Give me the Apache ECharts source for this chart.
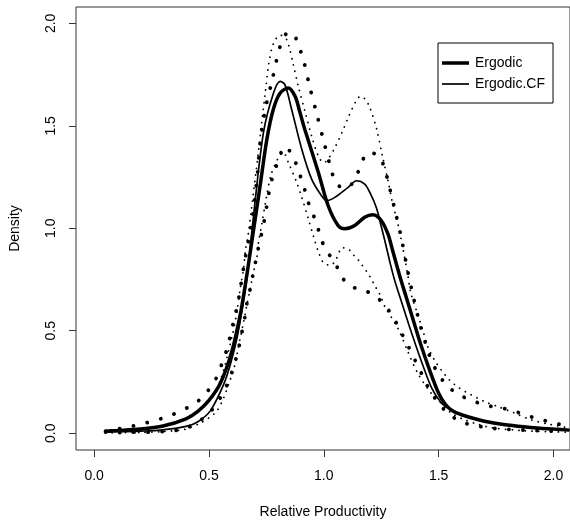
<!DOCTYPE html>
<html>
<head>
<meta charset="utf-8" />
<title>Ergodic density</title>
<style>
  html, body { margin: 0; padding: 0; background: #fff; }
  #chart { width: 570px; height: 524px; }
</style>
</head>
<body>
<div id="chart"></div>
<script src="https://cdn.jsdelivr.net/npm/echarts@6/dist/echarts.min.js"></script>
<script>
// tick labels
var xTicks = [0, 0.5, 1.0, 1.5, 2.0];
var yTicks = [0, 0.5, 1.0, 1.5, 2.0];

// Ergodic density (thick solid)
var ergodic = [
  [0.05, 0.01], [0.1, 0.013], [0.2, 0.02], [0.3, 0.035], [0.4, 0.07], [0.45, 0.105],
  [0.5, 0.16], [0.55, 0.245], [0.6, 0.40], [0.636, 0.577], [0.658, 0.723], [0.68, 0.885],
  [0.723, 1.21], [0.752, 1.434], [0.78, 1.58], [0.81, 1.66], [0.845, 1.685], [0.875, 1.644],
  [0.895, 1.57], [0.918, 1.48], [0.976, 1.274], [1.019, 1.11], [1.062, 1.014], [1.091, 0.998],
  [1.135, 1.014], [1.178, 1.054], [1.214, 1.066], [1.25, 1.038], [1.28, 0.97], [1.30, 0.89],
  [1.33, 0.77], [1.36, 0.66], [1.39, 0.55], [1.42, 0.44], [1.46, 0.31], [1.50, 0.195],
  [1.53, 0.14], [1.56, 0.11], [1.6, 0.09], [1.7, 0.058], [1.8, 0.04], [1.9, 0.028],
  [2.0, 0.02], [2.07, 0.015]
];
// Ergodic.CF density (thin solid)
var ergodicCF = [
  [0.05, 0.005], [0.1, 0.007], [0.2, 0.01], [0.29, 0.015], [0.4, 0.033], [0.45, 0.055],
  [0.506, 0.109], [0.564, 0.238], [0.593, 0.335], [0.622, 0.464], [0.643, 0.594], [0.665, 0.755],
  [0.694, 1.06], [0.737, 1.466], [0.781, 1.66], [0.81, 1.717], [0.831, 1.70], [0.86, 1.58],
  [0.904, 1.386], [0.947, 1.24], [0.99, 1.159], [1.012, 1.135], [1.048, 1.151], [1.106, 1.20],
  [1.142, 1.232], [1.178, 1.216], [1.2, 1.176], [1.229, 1.10], [1.25, 1.01], [1.27, 0.92],
  [1.29, 0.825], [1.31, 0.74], [1.34, 0.635], [1.37, 0.53], [1.40, 0.43], [1.43, 0.335],
  [1.47, 0.22], [1.51, 0.15], [1.55, 0.115], [1.6, 0.088], [1.7, 0.058], [1.8, 0.04],
  [1.9, 0.028], [2.0, 0.02], [2.07, 0.015]
];
// Ergodic bands (big dots)
var ergodicUpper = [
  [0.05, 0.01], [0.116, 0.023], [0.176, 0.037], [0.236, 0.053], [0.297, 0.073], [0.354, 0.097],
  [0.412, 0.128], [0.463, 0.167], [0.503, 0.218], [0.535, 0.276], [0.557, 0.341], [0.578, 0.409],
  [0.593, 0.477], [0.607, 0.543], [0.622, 0.616], [0.633, 0.681], [0.651, 0.81], [0.687, 1.038],
  [0.709, 1.24], [0.723, 1.418], [0.745, 1.58], [0.774, 1.717], [0.802, 1.857], [0.821, 1.922],
  [0.845, 1.955], [0.867, 1.951], [0.889, 1.895], [0.911, 1.822], [0.94, 1.685], [0.971, 1.55],
  [1.002, 1.415], [1.034, 1.28], [1.055, 1.215], [1.099, 1.195], [1.138, 1.245], [1.161, 1.31],
  [1.193, 1.37], [1.241, 1.353], [1.265, 1.289], [1.282, 1.219], [1.311, 1.083], [1.339, 0.946],
  [1.362, 0.81], [1.388, 0.674], [1.417, 0.538], [1.453, 0.403], [1.474, 0.341], [1.506, 0.276],
  [1.545, 0.223], [1.597, 0.183], [1.655, 0.155], [1.716, 0.134], [1.775, 0.123], [1.836, 0.105],
  [1.897, 0.082], [1.956, 0.063], [2.016, 0.046], [2.07, 0.035]
];
var ergodicLower = [
  [0.05, 0.005], [0.113, 0.003], [0.176, 0.005], [0.239, 0.005], [0.301, 0.008], [0.364, 0.015],
  [0.424, 0.037], [0.477, 0.075], [0.52, 0.123], [0.557, 0.188], [0.585, 0.252], [0.607, 0.322],
  [0.624, 0.39], [0.636, 0.45], [0.648, 0.519], [0.659, 0.584], [0.668, 0.652], [0.683, 0.721],
  [0.694, 0.79], [0.709, 0.868], [0.72, 0.933], [0.735, 0.998], [0.745, 1.07], [0.756, 1.135],
  [0.766, 1.205], [0.784, 1.273], [0.805, 1.34], [0.83, 1.40], [0.867, 1.35], [0.889, 1.28],
  [0.911, 1.216], [0.925, 1.148], [0.947, 1.086], [0.969, 1.022], [0.987, 0.952], [1.012, 0.889],
  [1.048, 0.835], [1.074, 0.771], [1.113, 0.718], [1.171, 0.70], [1.226, 0.667], [1.272, 0.616],
  [1.305, 0.56], [1.334, 0.498], [1.363, 0.435], [1.391, 0.37], [1.417, 0.312], [1.443, 0.247],
  [1.474, 0.188], [1.511, 0.131], [1.558, 0.082], [1.612, 0.05], [1.674, 0.034], [1.735, 0.024],
  [1.797, 0.019], [1.86, 0.016], [1.923, 0.013], [1.988, 0.01], [2.05, 0.007]
];
// Ergodic.CF bands (small dots)
var cfUpper = [
  [0.05, 0.01], [0.2, 0.022], [0.3, 0.035], [0.4, 0.07], [0.5, 0.16], [0.55, 0.26],
  [0.6, 0.47], [0.622, 0.594], [0.636, 0.707], [0.651, 0.804], [0.658, 0.885], [0.672, 0.98],
  [0.683, 1.078], [0.694, 1.175], [0.715, 1.37], [0.728, 1.50], [0.745, 1.66], [0.76, 1.80],
  [0.78, 1.90], [0.81, 1.943], [0.839, 1.919], [0.867, 1.80], [0.889, 1.693], [0.918, 1.571],
  [0.947, 1.45], [0.976, 1.353], [1.0, 1.32], [1.026, 1.35], [1.051, 1.40], [1.08, 1.47],
  [1.11, 1.55], [1.14, 1.62], [1.16, 1.645], [1.18, 1.63], [1.2, 1.59], [1.229, 1.49],
  [1.255, 1.355], [1.28, 1.23], [1.30, 1.12], [1.323, 1.02], [1.344, 0.905], [1.366, 0.77],
  [1.378, 0.689], [1.41, 0.576], [1.431, 0.503], [1.453, 0.422], [1.482, 0.357], [1.511, 0.309],
  [1.547, 0.26], [1.59, 0.22], [1.641, 0.188], [1.699, 0.155], [1.756, 0.131], [1.829, 0.099],
  [1.901, 0.066], [1.988, 0.042], [2.07, 0.026]
];
var cfLower = [
  [0.05, 0.002], [0.2, 0.004], [0.3, 0.008], [0.4, 0.02], [0.463, 0.05], [0.5, 0.075],
  [0.535, 0.109], [0.564, 0.173], [0.585, 0.238], [0.607, 0.31], [0.622, 0.383], [0.636, 0.464],
  [0.651, 0.545], [0.665, 0.626], [0.68, 0.707], [0.694, 0.787], [0.709, 0.86], [0.716, 0.933],
  [0.73, 1.02], [0.75, 1.15], [0.77, 1.26], [0.80, 1.34], [0.824, 1.37], [0.846, 1.32],
  [0.882, 1.224], [0.904, 1.151], [0.932, 1.05], [0.955, 0.96], [0.975, 0.89], [1.0, 0.83],
  [1.031, 0.82], [1.055, 0.852], [1.08, 0.905], [1.106, 0.90], [1.128, 0.871], [1.149, 0.847],
  [1.167, 0.82], [1.186, 0.79], [1.203, 0.76], [1.217, 0.731], [1.233, 0.698], [1.248, 0.669],
  [1.265, 0.62], [1.323, 0.511], [1.366, 0.398], [1.409, 0.293], [1.467, 0.196], [1.511, 0.147],
  [1.554, 0.099], [1.612, 0.066], [1.677, 0.042], [1.735, 0.026], [1.858, 0.013], [1.988, 0.007],
  [2.07, 0.005]
];

var font = "'Liberation Sans', Arial, Helvetica, sans-serif";

function lineSeries(name, data, width, dash) {
  return {
    name: name,
    type: 'line',
    data: data,
    smooth: 0.3,
    symbol: 'none',
    silent: true,
    lineStyle: {
      color: '#000',
      width: width,
      type: dash || 'solid',
      cap: dash ? 'round' : 'butt'
    },
    itemStyle: { color: '#000' }
  };
}

var chart = echarts.init(document.getElementById('chart'));
chart.setOption({
  animation: false,
  textStyle: { fontFamily: font },
  grid: {
    left: 75, top: 7, right: -1, bottom: 71,
    show: true, borderColor: '#333', borderWidth: 1
  },
  legend: {
    data: [
      { name: 'Ergodic', icon: 'path://M0,0h27v3.5h-27z' },
      { name: 'Ergodic.CF', icon: 'path://M0,0h27v1.7h-27z' }
    ],
    orient: 'vertical',
    left: 438, top: 43,
    padding: [13, 8, 12, 4],
    itemGap: 7,
    itemWidth: 27, itemHeight: 14,
    symbolKeepAspect: true,
    borderColor: '#000', borderWidth: 1,
    selectedMode: false,
    itemStyle: { color: '#000', borderWidth: 0 },
    textStyle: { fontFamily: font, fontSize: 14, color: '#000', padding: [0, 0, 0, 1] }
  },
  xAxis: {
    type: 'value',
    min: -0.079, max: 2.072,
    name: 'Relative Productivity',
    nameLocation: 'middle',
    nameGap: 55,
    nameTextStyle: { fontFamily: font, fontSize: 14, color: '#000' },
    axisLine: { show: false, onZero: false },
    splitLine: { show: false },
    axisTick: { show: true, customValues: xTicks, length: 7, lineStyle: { color: '#333' } },
    axisLabel: {
      customValues: xTicks, margin: 19, fontSize: 14, color: '#000', fontFamily: font,
      formatter: function (v) { return v.toFixed(1); }
    }
  },
  yAxis: {
    type: 'value',
    min: -0.082, max: 2.08,
    name: 'Density',
    nameLocation: 'middle',
    nameGap: 54,
    nameRotate: 90,
    nameTextStyle: { fontFamily: font, fontSize: 14, color: '#000' },
    axisLine: { show: false, onZero: false },
    splitLine: { show: false },
    axisTick: { show: true, customValues: yTicks, length: 7, lineStyle: { color: '#333' } },
    axisLabel: {
      customValues: yTicks, margin: 18, rotate: 90, fontSize: 14, color: '#000', fontFamily: font,
      formatter: function (v) { return v.toFixed(1); }
    }
  },
  series: [
    lineSeries('Ergodic', ergodic, 3.5),
    lineSeries('Ergodic.CF', ergodicCF, 1.7),
    lineSeries('ErgodicUpper', ergodicUpper, 3.8, [0.1, 14]),
    lineSeries('ErgodicLower', ergodicLower, 3.8, [0.1, 14]),
    lineSeries('CFUpper', cfUpper, 1.8, [0.1, 6.5]),
    lineSeries('CFLower', cfLower, 1.8, [0.1, 6.5])
  ]
});
</script>
</body>
</html>
